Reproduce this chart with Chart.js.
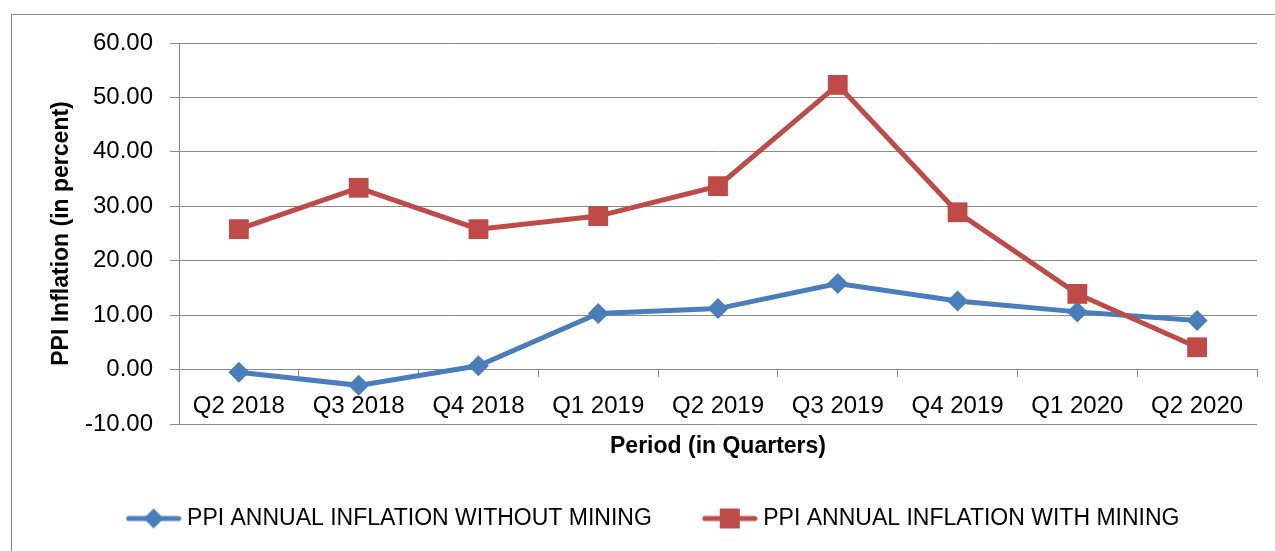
<!DOCTYPE html>
<html>
<head>
<meta charset="utf-8">
<script src="https://cdn.jsdelivr.net/npm/chart.js@4.4.1/dist/chart.umd.min.js"></script>
<style>
  html, body { margin: 0; padding: 0; background: #fff; }
  #wrap { width: 1275px; height: 551px; }
</style>
</head>
<body>
<div id="wrap"><canvas id="ppiChart" width="1275" height="551"></canvas></div>
<script>
// values
const quarters = ['Q2 2018', 'Q3 2018', 'Q4 2018', 'Q1 2019', 'Q2 2019', 'Q3 2019', 'Q4 2019', 'Q1 2020', 'Q2 2020'];
const withoutMining = [-0.5, -2.9, 0.7, 10.3, 11.2, 15.8, 12.6, 10.6, 9.0];
const withMining = [25.8, 33.4, 25.8, 28.2, 33.7, 52.3, 28.9, 13.9, 4.1];
const yTicks = { min: -10, max: 60, step: 10 };

const FONT = "'Liberation Sans', Arial, sans-serif";
const GRID = '#8a8a8a';
const BLUE = '#4A7EBB';
const RED = '#BE4B48';

Chart.defaults.font.family = FONT;
Chart.defaults.color = '#000';

// line + marker sample for the legend
function legendIcon(color, shape) {
    const c = document.createElement('canvas');
    c.width = 56;
    c.height = 22;
    const g = c.getContext('2d');
    g.strokeStyle = color;
    g.fillStyle = color;
    g.lineWidth = 5;
    g.lineCap = 'round';
    g.beginPath();
    g.moveTo(3, 11);
    g.lineTo(53, 11);
    g.stroke();
    if (shape === 'diamond') {
        g.beginPath();
        g.moveTo(28, 1);
        g.lineTo(38, 11);
        g.lineTo(28, 21);
        g.lineTo(18, 11);
        g.closePath();
        g.fill();
    } else {
        g.fillRect(18, 1, 20, 20);
    }
    return c;
}
const icons = [legendIcon(BLUE, 'diamond'), legendIcon(RED, 'square')];

// outer frame of the chart
const frame = {
    id: 'frame',
    beforeDraw(chart) {
        const ctx = chart.ctx;
        ctx.save();
        ctx.strokeStyle = GRID;
        ctx.lineWidth = 1;
        ctx.strokeRect(11.5, 14.5, 1300, 600);
        ctx.restore();
    }
};

new Chart(document.getElementById('ppiChart'), {
    type: 'line',
    data: {
        labels: quarters,
        datasets: [{
            label: 'PPI ANNUAL INFLATION WITHOUT MINING',
            data: withoutMining,
            borderColor: BLUE,
            backgroundColor: BLUE,
            borderWidth: 5,
            pointStyle: 'rectRot',
            pointRadius: 10.5,
            pointBorderWidth: 0,
            tension: 0,
            order: 1
        }, {
            label: 'PPI ANNUAL INFLATION WITH MINING',
            data: withMining,
            borderColor: RED,
            backgroundColor: RED,
            borderWidth: 5,
            pointStyle: 'rect',
            pointRadius: 14,
            pointBorderWidth: 0,
            tension: 0,
            order: 0
        }]
    },
    options: {
        responsive: false,
        animation: false,
        layout: { padding: { top: 43, right: 18, bottom: 11, left: 54 } },
        scales: {
            x: {
                position: { y: 0 },
                offset: true,
                grid: { offset: true, drawOnChartArea: false, drawTicks: true, tickLength: 7, color: GRID },
                border: { color: GRID },
                ticks: { font: { size: 24 }, padding: 15, maxRotation: 0, autoSkip: false },
                title: {
                    display: true,
                    text: 'Period (in Quarters)',
                    font: { size: 23, weight: 'bold' },
                    padding: { top: -3, bottom: 0 }
                }
            },
            y: {
                min: yTicks.min,
                max: yTicks.max,
                ticks: {
                    stepSize: yTicks.step,
                    padding: 17,
                    font: { size: 24 },
                    callback: v => v.toFixed(2)
                },
                grid: { color: GRID, tickLength: 9 },
                border: { color: GRID },
                title: {
                    display: true,
                    text: 'PPI Inflation (in percent)',
                    font: { size: 23, weight: 'bold' },
                    padding: { top: -6, bottom: 0 }
                },
                afterFit: s => { s.width = 125; }
            }
        },
        plugins: {
            tooltip: { enabled: false },
            legend: {
                position: 'bottom',
                title: { display: true, text: ' ', font: { size: 10 }, padding: { top: 15, bottom: 0 } },
                labels: {
                    usePointStyle: true,
                    pointStyleWidth: 44,
                    padding: 56,
                    font: { size: 23 },
                    generateLabels: chart => chart.data.datasets.map((ds, i) => ({
                        text: ds.label,
                        pointStyle: icons[i],
                        fillStyle: ds.borderColor,
                        strokeStyle: ds.borderColor,
                        lineWidth: 0,
                        hidden: false,
                        datasetIndex: i,
                        fontColor: '#000'
                    }))
                }
            }
        }
    },
    plugins: [frame]
});
</script>
</body>
</html>
